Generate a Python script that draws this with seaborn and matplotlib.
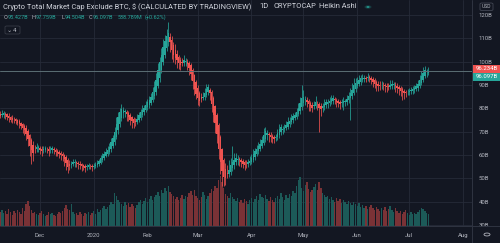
import numpy as np
import pandas as pd
import matplotlib
matplotlib.use("Agg")
import matplotlib.pyplot as plt
import seaborn as sns
from matplotlib.patches import Rectangle, Circle, FancyBboxPatch
from matplotlib import transforms

# ---------------- data (Heikin Ashi, daily, 8 Nov 2019 -> 12 Jul 2020) -------------
ha_close = [
    76.8, 77.5, 77.9, 77.2, 76.4, 75.8, 75.1, 74.9, 75.3, 74.6,
    73.9, 73.2, 72.4, 71.8, 70.6, 69.2, 66.8, 63.9, 62.1, 61.0,
    62.4, 63.6, 63.1, 62.2, 61.8, 62.5, 63.0, 62.4, 61.7, 62.3,
    62.9, 62.1, 61.5, 61.0, 60.6, 60.2, 59.4, 58.1, 56.4, 54.9,
    55.3, 56.2, 56.8, 57.1, 56.6, 56.0, 55.6, 55.2, 54.9, 54.6,
    55.1, 55.6, 55.3, 54.8, 55.4, 55.9, 56.5, 57.4, 58.6, 59.7,
    60.6, 61.5, 62.3, 63.5, 65.4, 67.2, 69.8, 73.5, 76.2, 78.4,
    79.8, 79.3, 78.6, 77.5, 76.2, 75.1, 74.4, 73.8, 74.2, 75.6,
    77.0, 78.3, 79.4, 80.3, 81.5, 82.6, 83.4, 84.8, 86.9, 89.2,
    92.4, 96.3, 99.8, 103.1, 106.2, 108.9, 111.0, 112.4, 108.6, 105.2,
    102.8, 101.5, 100.6, 99.4, 98.7, 99.5, 100.6, 100.1, 99.2, 97.4,
    94.6, 91.8, 88.5, 86.3, 84.6, 83.2, 83.9, 85.0, 86.8, 88.2,
    89.0, 86.4, 82.1, 77.3, 73.6, 68.9, 62.4, 57.1, 53.0, 50.6,
    50.1, 51.8, 53.6, 55.7, 57.2, 58.0, 58.6, 58.3, 57.9, 57.1,
    56.3, 55.8, 56.1, 56.9, 57.6, 58.9, 60.4, 61.8, 62.6, 63.9,
    64.8, 66.5, 68.8, 70.2, 69.6, 68.4, 67.6, 67.1, 66.8, 67.9,
    69.4, 71.2, 71.9, 71.3, 71.8, 72.9, 74.1, 74.8, 75.9, 76.6,
    77.2, 78.4, 80.1, 82.5, 84.4, 84.9, 83.8, 82.6, 81.7, 80.9,
    80.3, 81.4, 82.9, 81.8, 80.0, 79.8, 80.9, 82.0, 82.6, 82.8,
    83.3, 83.9, 84.3, 83.6, 82.9, 82.3, 82.1, 82.6, 83.2, 83.0,
    84.2, 85.3, 86.4, 88.1, 89.9, 90.8, 91.6, 92.4, 92.9, 93.1,
    93.2, 92.8, 93.4, 93.1, 92.4, 91.4, 90.6, 89.9, 89.5, 89.7,
    90.2, 89.9, 89.4, 89.0, 89.3, 90.1, 90.6, 90.3, 89.4, 88.7,
    88.3, 87.6, 86.9, 86.4, 86.7, 87.2, 87.6, 87.9, 88.2, 88.6,
    89.4, 90.5, 92.0, 93.9, 95.2, 96.3, 95.3, 96.097,
]
first_open = 77.6

wick_up = [
    1.5, 2.0, 1.2, 0.8, 0.6, 1.0, 0.5, 1.4, 1.1, 0.7,
    0.6, 0.9, 0.5, 0.8, 0.7, 1.2, 0.9, 0.6, 1.0, 1.8,
    1.6, 1.4, 1.1, 0.9, 1.3, 1.5, 1.0, 0.8, 1.2, 1.4,
    0.9, 0.7, 0.8, 0.6, 0.9, 0.5, 0.7, 0.6, 0.8, 1.0,
    1.5, 1.2, 1.4, 1.0, 0.8, 0.6, 0.9, 0.5, 0.7, 0.8,
    1.1, 1.0, 0.7, 0.9, 1.2, 1.1, 1.3, 1.0, 1.4, 1.2,
    1.0, 1.3, 1.5, 1.8, 2.0, 1.6, 2.4, 2.8, 2.2, 1.9,
    2.3, 1.2, 1.0, 0.9, 0.7, 0.8, 0.6, 1.1, 1.5, 1.8,
    1.6, 1.4, 1.9, 1.2, 1.7, 1.5, 2.1, 1.8, 2.3, 2.6,
    2.9, 3.1, 2.4, 2.8, 3.6, 2.5, 3.2, 4.6, 1.9, 1.5,
    1.2, 2.6, 1.8, 1.1, 1.4, 1.9, 2.2, 1.5, 0.9, 0.8,
    0.9, 0.7, 0.6, 0.9, 1.1, 0.8, 1.6, 2.0, 1.9, 2.4,
    1.6, 0.9, 0.7, 0.8, 0.6, 0.9, 0.7, 1.0, 0.8, 1.2,
    2.5, 3.4, 4.1, 3.0, 6.8, 2.7, 2.1, 1.6, 1.2, 0.9,
    0.8, 1.0, 1.3, 1.5, 1.8, 1.6, 2.0, 1.4, 1.9, 1.7,
    2.1, 1.8, 2.6, 1.9, 1.2, 0.9, 1.1, 0.8, 1.0, 1.3,
    1.7, 2.0, 1.5, 1.1, 1.6, 1.8, 2.2, 1.4, 1.9, 1.6,
    1.3, 1.8, 2.4, 2.2, 5.8, 2.9, 1.6, 1.2, 1.0, 0.9,
    1.1, 1.8, 2.3, 1.0, 0.8, 1.2, 1.5, 1.9, 1.3, 1.4,
    1.6, 1.9, 1.5, 1.1, 0.9, 0.8, 1.0, 1.3, 1.6, 1.2,
    1.7, 1.9, 2.2, 2.6, 3.1, 2.4, 1.8, 2.0, 1.5, 1.7,
    1.3, 1.1, 1.6, 1.4, 1.0, 0.9, 1.1, 0.8, 1.2, 1.9,
    1.6, 1.3, 1.0, 1.4, 1.7, 2.1, 1.5, 1.2, 0.9, 1.1,
    0.8, 0.7, 0.9, 0.6, 1.0, 1.2, 1.1, 1.4, 1.3, 1.6,
    1.5, 1.9, 2.3, 2.1, 2.7, 1.8, 1.5, 1.66,
]

wick_dn = [
    0.8, 1.1, 1.4, 1.9, 1.2, 1.6, 1.0, 1.3, 1.7, 1.5,
    1.2, 1.8, 1.4, 2.2, 1.9, 2.6, 3.1, 4.2, 6.0, 3.4,
    1.5, 1.2, 1.6, 1.9, 2.3, 1.4, 1.1, 1.7, 2.0, 1.3,
    1.5, 1.8, 2.1, 1.6, 1.9, 2.4, 2.0, 2.7, 3.0, 2.5,
    1.6, 1.2, 0.9, 1.4, 1.8, 2.0, 1.5, 1.9, 1.3, 1.7,
    1.2, 0.9, 1.5, 1.8, 1.1, 0.8, 0.9, 0.7, 0.6, 0.8,
    0.9, 0.7, 1.0, 0.8, 1.1, 0.9, 1.2, 1.0, 1.5, 1.3,
    1.4, 1.9, 2.3, 2.7, 1.8, 2.4, 3.0, 2.2, 1.6, 1.1,
    0.9, 1.0, 0.8, 1.2, 0.9, 1.1, 1.3, 0.8, 1.0, 1.2,
    1.4, 1.1, 1.6, 1.3, 1.0, 1.5, 1.2, 1.8, 4.5, 3.8,
    2.9, 2.4, 3.2, 2.6, 2.1, 1.5, 1.3, 2.0, 2.7, 3.1,
    2.6, 3.3, 2.8, 2.4, 3.0, 2.2, 1.1, 0.9, 1.2, 1.0,
    1.4, 2.8, 3.5, 3.1, 4.0, 3.6, 4.2, 5.1, 6.5, 3.8,
    2.9, 1.6, 1.2, 1.5, 1.0, 1.8, 1.3, 2.1, 2.6, 2.2,
    1.9, 2.4, 1.6, 1.2, 1.0, 0.9, 1.1, 1.3, 0.8, 1.0,
    1.2, 0.9, 1.0, 1.4, 2.3, 2.8, 2.1, 1.9, 1.6, 1.2,
    0.9, 1.1, 1.3, 1.8, 1.2, 0.9, 1.0, 1.2, 0.8, 1.1,
    0.9, 1.0, 0.8, 1.1, 1.4, 1.6, 2.3, 2.0, 2.6, 2.2,
    1.9, 1.4, 1.2, 2.5, 10.2, 3.1, 1.8, 1.4, 1.1, 1.6,
    1.2, 0.9, 1.3, 1.8, 2.1, 1.7, 2.4, 1.9, 3.2, 2.0,
    1.4, 1.1, 9.5, 1.2, 1.0, 1.3, 0.8, 1.1, 1.4, 1.0,
    1.2, 1.5, 1.1, 1.7, 2.0, 2.4, 1.9, 2.6, 2.2, 1.8,
    1.4, 1.9, 2.3, 2.0, 1.6, 1.2, 1.5, 1.8, 2.4, 2.1,
    2.6, 2.3, 3.1, 2.5, 1.7, 1.2, 1.4, 1.0, 1.3, 1.1,
    0.9, 1.2, 1.0, 0.8, 1.1, 0.9, 1.4, 0.92,
]

volume = [
    14, 16, 13, 15, 12, 17, 14, 11, 15, 13,
    16, 14, 12, 18, 15, 22, 25, 20, 16, 13,
    14, 12, 11, 13, 15, 12, 10, 11, 14, 12,
    13, 11, 10, 12, 14, 13, 15, 18, 21, 17,
    16, 22, 14, 12, 13, 11, 14, 12, 10, 13,
    12, 14, 11, 13, 15, 12, 17, 14, 16, 18,
    20, 17, 19, 21, 24, 22, 33, 30, 26, 24,
    22, 20, 24, 21, 23, 19, 22, 20, 18, 21,
    24, 26, 22, 25, 28, 24, 27, 30, 26, 29,
    31, 34, 30, 36, 33, 38, 35, 40, 34, 32,
    30, 27, 29, 26, 28, 31, 27, 30, 29, 33,
    35, 31, 36, 30, 28, 26, 29, 34, 31, 27,
    30, 33, 37, 35, 40, 38, 46, 50, 44, 38,
    32, 30, 28, 33, 29, 27, 25, 28, 24, 26,
    23, 27, 25, 22, 26, 28, 24, 27, 30, 26,
    32, 29, 28, 31, 27, 25, 29, 26, 24, 28,
    30, 27, 33, 29, 26, 31, 28, 32, 30, 35,
    33, 40, 46, 49, 38, 35, 41, 44, 37, 34,
    36, 39, 42, 36, 44, 38, 33, 31, 29, 30,
    27, 29, 26, 24, 28, 25, 27, 23, 26, 24,
    22, 25, 23, 21, 24, 22, 20, 23, 19, 21,
    18, 20, 17, 19, 21, 18, 16, 19, 17, 15,
    18, 16, 19, 15, 17, 20, 16, 14, 18, 15,
    13, 15, 12, 14, 16, 13, 11, 14, 12, 13,
    12, 14, 16, 18, 17, 15, 13, 12,
]

month_days = [23, 54, 85, 114, 145, 175, 206, 236, 267]
month_labels = ["Dec", "2020", "Feb", "Mar", "Apr", "May", "Jun", "Jul", "Aug"]
price_ticks = [30, 40, 50, 60, 70, 80, 90, 100, 110, 120]
last_price = 96.234
last_close = 96.097

title = "Crypto Total Market Cap Exclude BTC, $ (CALCULATED BY TRADINGVIEW)"
ohlc_parts = [("O", "95.427B"), ("H", "97.759B"), ("L", "94.504B"), ("C", "96.097B")]
vol_text = "588.789M"
chg_text = "(+0.62%)"

# ---------------- derived frame ----------------
n = len(ha_close)
ha_open = [first_open]
for i in range(1, n):
    ha_open.append((ha_open[-1] + ha_close[i - 1]) / 2)
df = pd.DataFrame({"day": np.arange(n), "close": ha_close, "open": ha_open,
                   "wu": wick_up, "wd": wick_dn, "volume": volume})
df["top"] = df[["open", "close"]].max(axis=1)
df["bot"] = df[["open", "close"]].min(axis=1)
df["high"] = df["top"] + df["wu"]
df["low"] = df["bot"] - df["wd"]
df["dir"] = np.where(df["close"] >= df["open"], "up", "down")

# ---------------- style ----------------
BG = "#131722"
GRID = "#262b38"
TXT = "#b2b5be"
UP = "#26a69a"
DN = "#ef5350"
sns.set_theme(style="dark", rc={"axes.facecolor": BG, "figure.facecolor": BG})
plt.rcParams["font.family"] = ["Roboto", "DejaVu Sans"]

W, H = 500, 243
fig = plt.figure(figsize=(W / 100, H / 100), dpi=100, facecolor=BG)
rect = [0, 17 / H, 472 / W, 226 / H]
xlim = (-0.073, 272.2)
ylim = (29.55, 126.51)

gax = fig.add_axes(rect)
gax.set_facecolor(BG)
gax.set_xlim(*xlim)
gax.set_ylim(*ylim)
gax.set_xticks(month_days)
gax.set_xticklabels(month_labels)
gax.set_yticks(price_ticks)
gax.set_yticklabels([f"{v}B" for v in price_ticks])
gax.yaxis.tick_right()
gax.tick_params(axis="both", length=0, colors=TXT, labelsize=4.3)
gax.tick_params(axis="y", pad=5)
gax.tick_params(axis="x", pad=5)
gax.grid(True, color=GRID, lw=0.6)
for s in gax.spines.values():
    s.set_visible(False)

# volume
vax = fig.add_axes(rect)
vax.set_facecolor("none")
sns.barplot(data=df, x="day", y="volume", hue="dir",
            palette={"up": "#1c5a58", "down": "#7a3236"},
            native_scale=True, dodge=False, width=0.8, saturation=1,
            errorbar=None, legend=False, linewidth=0, edgecolor="none", ax=vax)
vax.set_xlim(*xlim)
vax.set_ylim(0, 226)
vax.axis("off")

# candles
ax = fig.add_axes(rect)
ax.set_facecolor("none")
cols = np.where(df["dir"] == "up", UP, DN)
ax.vlines(df["day"], df["low"], df["high"], colors=cols, lw=0.55)
ax.bar(df["day"], np.maximum(df["top"] - df["bot"], 0.2), bottom=df["bot"],
       width=0.8, color=cols, linewidth=0)
ax.axhline(last_price, color="#5b6e74", lw=0.7)
ax.set_xlim(*xlim)
ax.set_ylim(*ylim)
ax.axis("off")

# axis separators
fig.add_artist(plt.Line2D([472 / W, 472 / W], [0, 1], color="#2f3441", lw=0.7))
fig.add_artist(plt.Line2D([0, 1], [17 / H, 17 / H], color="#2f3441", lw=0.7))

# price labels on axis
for label, yc, col in [(f"{last_price:.3f}B", 69.0, DN), (f"{last_close:.3f}B", 77.0, UP)]:
    fig.add_artist(Rectangle((472 / W, 1 - (yc + 3.6) / H), 28 / W, 7.2 / H,
                             transform=fig.transFigure, color=col, lw=0))
    fig.text(476 / W, 1 - yc / H, label, color="white", fontsize=4.3,
             va="center", ha="left")

# header
fig.text(3 / W, 1 - 7 / H, title, color="#d1d4dc", fontsize=5.4, va="center")
fig.text(259 / W, 1 - 7 / H, "1D", color="#d1d4dc", fontsize=5.4, va="center")
fig.text(273 / W, 1 - 7 / H, "CRYPTOCAP", color="#d1d4dc", fontsize=5.4, va="center")
fig.text(319 / W, 1 - 7 / H, "Heikin Ashi", color="#d1d4dc", fontsize=5.4, va="center")
fig.add_artist(Circle((368 / W, 1 - 7 / H), 3.5 / W, transform=fig.transFigure,
                      color=UP, alpha=0.25, lw=0))
fig.add_artist(Circle((368 / W, 1 - 7 / H), 1.6 / W, transform=fig.transFigure,
                      color=UP, lw=0))

xs = [4, 32, 61, 89]
for (k, v), x0 in zip(ohlc_parts, xs):
    fig.text(x0 / W, 1 - 17.5 / H, k, color=TXT, fontsize=4.0, va="center")
    fig.text((x0 + 4) / W, 1 - 17.5 / H, v, color=UP, fontsize=4.0, va="center")
fig.text(118 / W, 1 - 17.5 / H, vol_text, color=UP, fontsize=4.0, va="center")
fig.text(145 / W, 1 - 17.5 / H, chg_text, color=UP, fontsize=4.0, va="center")

fig.add_artist(FancyBboxPatch((5 / W, 1 - 34 / H), 15 / W, 8 / H,
                              boxstyle="round,pad=0,rounding_size=0.004",
                              transform=fig.transFigure, fc=BG, ec="#363a45", lw=0.6))
fig.text(9 / W, 1 - 30 / H, "⌄", color=TXT, fontsize=4.5, va="center", ha="center",
         family=["DejaVu Sans"])
fig.text(15 / W, 1 - 30 / H, "4", color=TXT, fontsize=4.4, va="center", ha="center")

# USD box
fig.add_artist(FancyBboxPatch((480 / W, 1 - 10.5 / H), 13 / W, 7.5 / H,
                              boxstyle="round,pad=0,rounding_size=0.004",
                              transform=fig.transFigure, fc=BG, ec="#4a4f5c", lw=0.5))
fig.text(486.5 / W, 1 - 6.7 / H, "USD", color=TXT, fontsize=3.6, va="center", ha="center")

# gear icon
fig.add_artist(Circle((487 / W, 1 - 234.5 / H), 3 / W, transform=fig.transFigure,
                      fill=False, ec=TXT, lw=0.6))

fig.savefig("out.png", dpi=100, facecolor=BG)
